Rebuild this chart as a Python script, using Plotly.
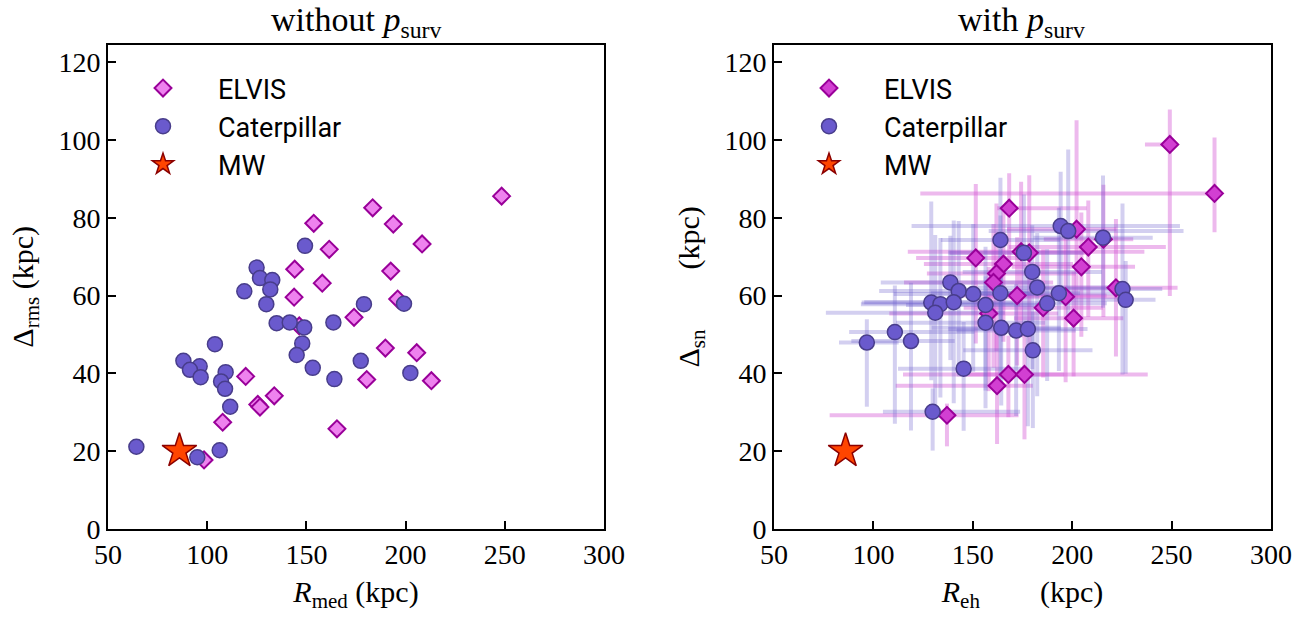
import plotly.graph_objects as go

# ---------------- data: left panel (without p_surv) ----------------
elvis_rmed = [248.4, 183.4, 153.7, 193.8, 208.3, 161.5, 144.1, 192.5, 158.0, 143.8, 196.0, 174.0,
              146.4, 189.8, 205.6, 119.4, 180.4, 213.0, 133.8, 125.5, 126.6, 107.8, 165.4, 98.4]
elvis_drms = [85.6, 82.6, 78.6, 78.4, 73.3, 71.9, 66.8, 66.3, 63.2, 59.6, 59.1, 54.4,
              52.2, 46.5, 45.3, 39.2, 38.4, 38.1, 34.2, 32.0, 31.3, 27.4, 25.7, 17.7]

cat_rmed = [149.3, 124.9, 126.6, 132.8, 131.8, 118.7, 129.8, 179.0, 199.2, 135.0, 141.6, 148.9,
            163.6, 103.9, 147.9, 145.1, 88.0, 96.2, 91.3, 109.3, 96.7, 107.0, 109.0, 153.2,
            164.1, 177.4, 202.4, 111.6, 64.3, 106.3, 95.0]
cat_drms = [72.8, 67.2, 64.5, 64.0, 61.6, 61.1, 57.8, 57.8, 57.9, 52.9, 53.1, 51.8,
            53.1, 47.5, 47.7, 44.7, 43.2, 41.8, 40.9, 40.3, 39.0, 37.9, 36.0, 41.4,
            38.5, 43.2, 40.1, 31.4, 21.1, 20.2, 18.4]

mw_r = [86]
mw_d = [20]

# ---------------- data: right panel (with p_surv) ----------------
elvis2_r = [249.1, 271.6, 168.3, 202.2, 208.1, 215.7, 174.3, 178.4, 151.5, 204.6, 165.4, 161.9,
            160.4, 222.0, 172.3, 196.7, 158.0, 185.4, 200.7, 167.9, 176.0, 162.2, 137.0]
elvis2_d = [98.9, 86.3, 82.5, 77.1, 72.5, 74.5, 71.3, 71.0, 69.7, 67.4, 68.1, 65.7,
            63.4, 62.0, 60.0, 59.7, 55.4, 56.9, 54.2, 39.7, 39.7, 36.8, 29.2]
elvis2_r_lo = [12.5, 148, 6, 35, 40, 30, 57, 40, 30, 35, 40, 35, 45, 40, 30, 40, 50, 40, 30, 53, 30, 51, 59]
elvis2_r_hi = [2, 2, 39, 20, 39, 15, 62, 30, 25, 27, 35, 40, 30, 31, 45, 30, 35, 30, 25, 28, 62, 18, 36]
elvis2_d_lo = [39, 10, 15, 22, 18, 20, 22, 25, 22, 18, 20, 20, 22, 17.7, 18, 22, 20, 18, 15, 11, 16.7, 15, 8]
elvis2_d_hi = [9, 14.4, 9, 28, 12, 14, 18, 20, 19, 14, 15, 18, 15, 17.7, 15, 16, 12, 15, 12, 10, 12, 14, 3]

cat2_r = [194.2, 198.0, 215.5, 163.9, 175.7, 179.9, 138.7, 142.9, 182.4, 225.3, 226.9, 150.2,
          163.9, 193.3, 129.1, 133.7, 140.4, 131.1, 156.4, 187.4, 156.4, 164.3, 171.8, 177.7,
          110.8, 96.7, 118.9, 180.2, 145.4, 129.8]
cat2_d = [77.9, 76.6, 74.9, 74.3, 71.0, 66.1, 63.4, 61.2, 62.1, 61.7, 58.9, 60.4,
          60.6, 60.6, 58.2, 57.8, 58.3, 55.6, 57.6, 58.0, 53.0, 51.7, 51.0, 51.4,
          50.6, 47.9, 48.3, 45.9, 41.2, 30.1]
cat2_r_lo = [75, 40, 35, 30, 38, 35, 35, 40, 30, 40, 30, 40, 35, 40, 35, 40, 45, 55, 40, 35,
             45, 35, 30, 40, 23, 14, 30, 35, 33, 25]
cat2_r_hi = [60, 58, 25, 30, 30, 35, 45, 35, 40, 20, 15, 35, 40, 30, 30, 40, 30, 35, 35, 30,
             30, 30, 30, 30, 40, 16, 22, 30, 30, 44]
cat2_d_lo = [20, 22, 18, 25, 20, 25, 20, 22, 28, 22, 19, 20, 22, 20, 20, 24, 26, 24, 22, 20,
             22, 20, 22, 25, 23.6, 16.5, 23, 20, 16, 10]
cat2_d_hi = [14, 21, 16, 16, 15, 12, 12, 18, 14, 22, 10, 18, 20, 22, 26, 17, 21, 20, 15, 14,
             12, 16, 12, 14, 12, 6, 15, 10, 12, 6]

x_ticks = [50, 100, 150, 200, 250, 300]
y_ticks = [0, 20, 40, 60, 80, 100, 120]

# ---------------- styles ----------------
ELV_FILL_L = "#ee82ee"
ELV_FILL_R = "#d23fd2"
ELV_EDGE = "#990099"
CAT_FILL = "#6a5acd"
CAT_EDGE = "#483d8b"
MW_FILL = "#ff4500"
MW_EDGE = "#8b0000"
ELV_ERR = "rgba(210,80,210,0.40)"
CAT_ERR = "rgba(110,95,205,0.30)"

SERIF = "Liberation Serif"
SANS = "Roboto"

fig = go.Figure()

# left panel
fig.add_trace(go.Scatter(x=elvis_rmed, y=elvis_drms, mode="markers", name="ELVIS",
                         marker=dict(symbol="diamond", size=13, color=ELV_FILL_L,
                                     line=dict(color=ELV_EDGE, width=2)),
                         xaxis="x", yaxis="y", legend="legend"))
fig.add_trace(go.Scatter(x=cat_rmed, y=cat_drms, mode="markers", name="Caterpillar",
                         marker=dict(symbol="circle", size=15, color=CAT_FILL,
                                     line=dict(color=CAT_EDGE, width=1.5)),
                         xaxis="x", yaxis="y", legend="legend"))
fig.add_trace(go.Scatter(x=mw_r, y=mw_d, mode="markers", name="MW",
                         marker=dict(symbol="star", size=26, color=MW_FILL,
                                     line=dict(color=MW_EDGE, width=1.5)),
                         xaxis="x", yaxis="y", legend="legend"))

# right panel error bars (beneath markers)
fig.add_trace(go.Scatter(x=elvis2_r, y=elvis2_d, mode="markers", showlegend=False,
                         marker=dict(size=1, opacity=0),
                         error_x=dict(type="data", symmetric=False, array=elvis2_r_hi,
                                      arrayminus=elvis2_r_lo, color=ELV_ERR, thickness=4, width=0),
                         error_y=dict(type="data", symmetric=False, array=elvis2_d_hi,
                                      arrayminus=elvis2_d_lo, color=ELV_ERR, thickness=4, width=0),
                         xaxis="x2", yaxis="y2", hoverinfo="skip"))
fig.add_trace(go.Scatter(x=cat2_r, y=cat2_d, mode="markers", showlegend=False,
                         marker=dict(size=1, opacity=0),
                         error_x=dict(type="data", symmetric=False, array=cat2_r_hi,
                                      arrayminus=cat2_r_lo, color=CAT_ERR, thickness=4, width=0),
                         error_y=dict(type="data", symmetric=False, array=cat2_d_hi,
                                      arrayminus=cat2_d_lo, color=CAT_ERR, thickness=4, width=0),
                         xaxis="x2", yaxis="y2", hoverinfo="skip"))

fig.add_trace(go.Scatter(x=elvis2_r, y=elvis2_d, mode="markers", name="ELVIS",
                         marker=dict(symbol="diamond", size=13, color=ELV_FILL_R,
                                     line=dict(color=ELV_EDGE, width=2)),
                         xaxis="x2", yaxis="y2", legend="legend2"))
fig.add_trace(go.Scatter(x=cat2_r, y=cat2_d, mode="markers", name="Caterpillar",
                         marker=dict(symbol="circle", size=15, color=CAT_FILL,
                                     line=dict(color=CAT_EDGE, width=1.5)),
                         xaxis="x2", yaxis="y2", legend="legend2"))
fig.add_trace(go.Scatter(x=mw_r, y=mw_d, mode="markers", name="MW",
                         marker=dict(symbol="star", size=26, color=MW_FILL,
                                     line=dict(color=MW_EDGE, width=1.5)),
                         xaxis="x2", yaxis="y2", legend="legend2"))

W, H = 1316, 617
ydom = [(H - 528.7) / H, (H - 45) / H]

axis_common = dict(showline=True, linecolor="black", linewidth=1.6, mirror=True,
                   ticks="inside", ticklen=8, tickwidth=1.5, tickcolor="black",
                   showgrid=False, zeroline=False, automargin=False,
                   tickfont=dict(family=SERIF, size=28, color="black"))
title_font = dict(family=SERIF, size=30, color="black")

fig.update_layout(
    width=W, height=H,
    margin=dict(l=0, r=0, t=0, b=0),
    paper_bgcolor="white", plot_bgcolor="white",
    showlegend=True,
    xaxis=dict(domain=[108 / W, 604 / W], range=[50, 300], tickvals=x_ticks,
               title=dict(text="<i>R</i><sub>med</sub> (kpc)", font=title_font, standoff=12),
               anchor="y", **axis_common),
    yaxis=dict(domain=ydom, range=[0, 124.5], tickvals=y_ticks,
               title=dict(text="Δ<sub>rms</sub> (kpc)", font=title_font, standoff=16),
               anchor="x", **axis_common),
    xaxis2=dict(domain=[774 / W, 1271 / W], range=[50, 300], tickvals=x_ticks,
                title=dict(text="<i>R</i><sub>eh</sub>\u2003\u2003(kpc)", font=title_font, standoff=12),
                anchor="y2", **axis_common),
    yaxis2=dict(domain=ydom, range=[0, 124.5], tickvals=y_ticks,
                title=dict(text="Δ<sub>sn</sub>\u2003\u2003(kpc)", font=title_font, standoff=16),
                anchor="x2", **axis_common),
    legend=dict(x=108 / W, y=(H - 64) / H, xanchor="left", yanchor="top",
                bgcolor="rgba(0,0,0,0)", font=dict(family=SANS, size=27, color="black"),
                itemwidth=100, tracegroupgap=0),
    legend2=dict(x=774 / W, y=(H - 64) / H, xanchor="left", yanchor="top",
                 bgcolor="rgba(0,0,0,0)", font=dict(family=SANS, size=27, color="black"),
                 itemwidth=100, tracegroupgap=0),
    annotations=[
        dict(text="without <i>p</i><sub>surv</sub>", x=356 / W, y=(H - 22) / H, xref="paper",
             yref="paper", showarrow=False, xanchor="center", yanchor="middle",
             font=dict(family=SERIF, size=34, color="black")),
        dict(text="with <i>p</i><sub>surv</sub>", x=1022 / W, y=(H - 22) / H, xref="paper",
             yref="paper", showarrow=False, xanchor="center", yanchor="middle",
             font=dict(family=SERIF, size=34, color="black")),
    ],
)

fig.write_html("out.html")
